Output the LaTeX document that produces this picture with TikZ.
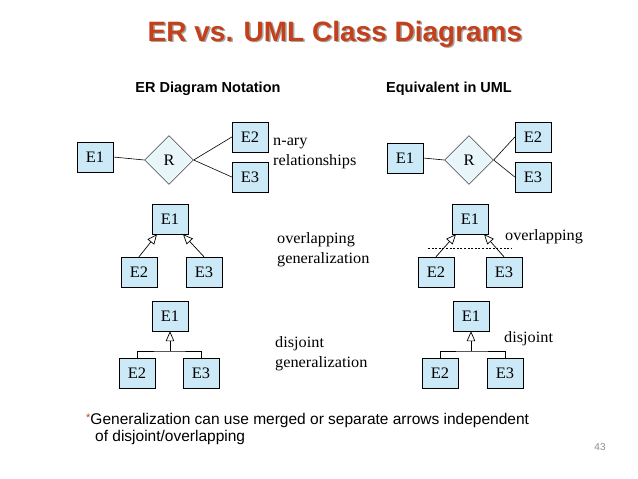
\documentclass[tikz,border=0pt]{standalone}
\usepackage{fontspec}
\setmainfont{Liberation Serif}
\setsansfont{Liberation Sans}
\newfontfamily\pal[FakeStretch=1.03]{Liberation Serif}
\usetikzlibrary{shapes.geometric,arrows.meta}
\definecolor{boxblue}{HTML}{CBE9F6}
\definecolor{diablue}{HTML}{E8F5FB}
\definecolor{titlered}{HTML}{C3401B}
\tikzset{
  ent/.style={draw, fill=boxblue, minimum width=36pt, minimum height=30pt, inner sep=0pt, font=\pal\fontsize{16}{18}\selectfont},
  rel/.style={draw, diamond, aspect=1, fill=#1, minimum size=49pt, inner sep=0pt, font=\pal\fontsize{16}{18}\selectfont},
  lbl/.style={anchor=west, align=left, inner sep=0pt, font=\pal\fontsize{15.8}{20}\selectfont},
  hdr/.style={font=\sffamily\bfseries\fontsize{14.5}{16}\selectfont, inner sep=0pt},
  gen/.style={-{Triangle[open,length=10pt,width=8.5pt]}, line width=0.7pt},
  conn/.style={line width=0.6pt},
}
\begin{document}
\begin{tikzpicture}[x=1pt,y=-1pt]
\useasboundingbox[fill=white] (0,0) rectangle (638,479);
% title
\node[font=\sffamily\bfseries\fontsize{28}{30}\selectfont, text=black!35, inner sep=0pt] (tshadow) at (336.5,35.5) {ER vs. UML Class Diagrams};
\node[font=\sffamily\bfseries\fontsize{28}{30}\selectfont, text=titlered, inner sep=0pt] (title) at (335,34) {ER vs. UML Class Diagrams};
\node[hdr] (h1) at (208,89) {ER Diagram Notation};
\node[hdr] (h2) at (449,89) {Equivalent in UML};
% top-left n-ary
\node[ent] (a1) at (95,157) {E1};
\node[rel=diablue] (ar) at (169,160) {R};
\node[ent] (a2) at (250,137) {E2};
\node[ent] (a3) at (250,177) {E3};
\draw[conn] (a1.east) -- (ar.west);
\draw[conn] (ar.east) -- (a2.west);
\draw[conn] (ar.east) -- (a3.west);
\node[lbl] (t1) at (273,153) {n-ary\\relationships};
% top-right
\node[ent] (b1) at (405,158) {E1};
\node[rel=diablue] (br) at (469,160) {R};
\node[ent] (b2) at (533,137) {E2};
\node[ent] (b3) at (533,177) {E3};
\draw[conn] (b1.east) -- (br.west);
\draw[conn] (br.east) -- (b2.west);
\draw[conn] (br.east) -- (b3.west);
% middle-left overlapping
\node[ent] (c1) at (170,219) {E1};
\node[ent] (c2) at (139,272) {E2};
\node[ent] (c3) at (204,272) {E3};
\draw[gen] (c2.north) -- ([xshift=-13pt]c1.south);
\draw[gen] (c3.north) -- ([xshift=13pt]c1.south);
\node[lbl] (t2) at (277,250) {overlapping\\generalization};
% middle-right overlapping
\node[ent] (d1) at (470,219) {E1};
\node[ent] (d2) at (436,272) {E2};
\node[ent] (d3) at (504,272) {E3};
\draw[gen] (d2.north) -- ([xshift=-14pt]d1.south);
\draw[gen] (d3.north) -- ([xshift=14pt]d1.south);
\coordinate (dl) at (428,248);
\coordinate (dr) at (512,248);
\draw[conn, dash pattern=on 2pt off 1.6pt] (dl) -- (dr);
\node[lbl] (t3) at (505,237) {overlapping};
% bottom-left disjoint
\node[ent] (e1) at (170,316) {E1};
\node[ent] (e2) at (137,373) {E2};
\node[ent] (e3) at (201,373) {E3};
\coordinate (ej) at (170,351);
\draw[conn] (e2.north) |- (ej) -| (e3.north);
\draw[gen] (ej) -- (e1.south);
\node[lbl] (t4) at (275,354) {disjoint\\generalization};
% bottom-right disjoint
\node[ent] (f1) at (471,316) {E1};
\node[ent] (f2) at (440,373) {E2};
\node[ent] (f3) at (505,373) {E3};
\coordinate (fj) at (471,351);
\draw[conn] (f2.north) |- (fj) -| (f3.north);
\draw[gen] (fj) -- (f1.south);
\node[lbl] (t5) at (504,339) {disjoint};
% footnote
\node[anchor=north west, align=left, inner sep=0pt, font=\sffamily\fontsize{15.5}{17}\selectfont] (fn) at (86,413)
  {\raisebox{3pt}{\textcolor{titlered}{\fontsize{11}{12}\selectfont *}}Generalization can use merged or separate arrows independent\\\hspace*{9pt}of disjoint/overlapping};
\node[font=\sffamily\fontsize{10}{12}\selectfont, text=black!45, inner sep=0pt] (pg) at (600,447) {43};
\end{tikzpicture}
\end{document}
